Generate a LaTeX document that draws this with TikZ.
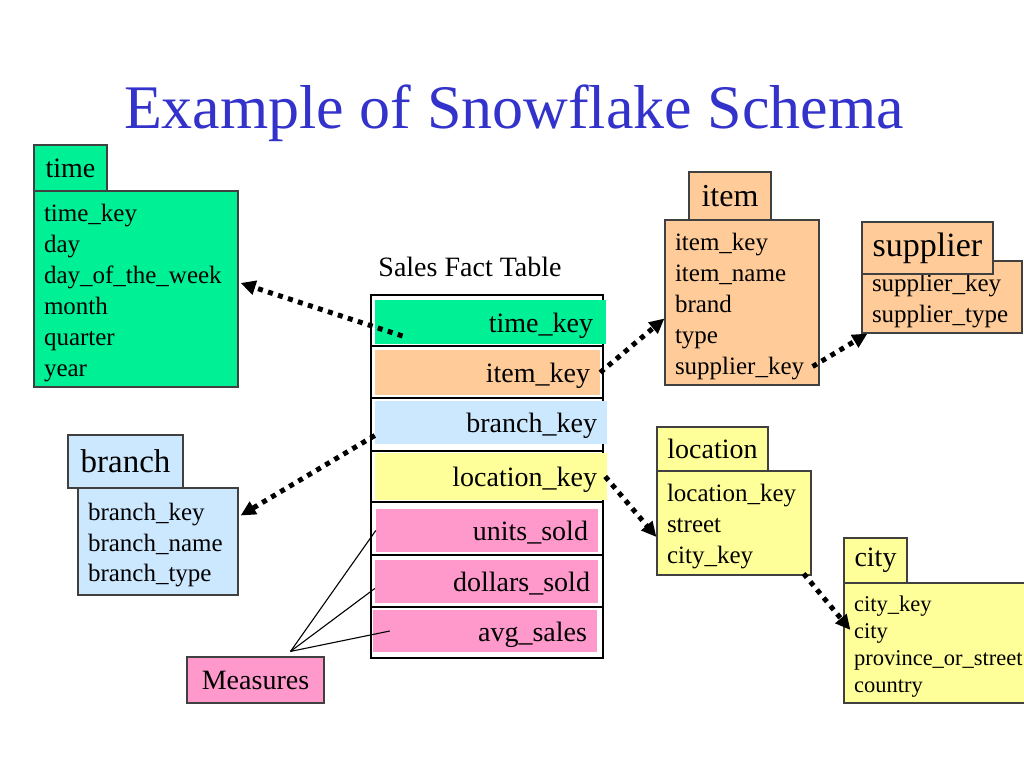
\documentclass[tikz,border=0pt]{standalone}
\usepackage{fontspec}
\setmainfont{Liberation Serif}
\usetikzlibrary{arrows.meta}
\definecolor{tgreen}{RGB}{0,240,150}
\definecolor{tpeach}{RGB}{255,204,153}
\definecolor{tblue}{RGB}{204,232,255}
\definecolor{tyellow}{RGB}{255,255,153}
\definecolor{tpink}{RGB}{255,153,204}
\definecolor{ttitle}{RGB}{51,51,204}
\newcommand{\topgap}{\rule{0pt}{25pt}}
\tikzset{
  hdr/.style={draw=black!75, line width=1.2pt, inner sep=0pt, align=center},
  tbody/.style={draw=black!75, line width=1.2pt, inner xsep=10pt, inner ysep=0pt, align=left,
     font=\fontsize{25}{31}\selectfont},
  frow/.style={inner xsep=10pt, inner ysep=0pt, align=right, font=\fontsize{28}{32}\selectfont,
     text height=27pt, text depth=6.2pt},
  fk/.style={line width=5pt, dash pattern=on 5pt off 5.5pt, -{Triangle[length=15pt,width=14pt]}},
  meas/.style={line width=1.1pt, black},
}
\begin{document}
\begin{tikzpicture}[x=1pt,y=-1pt]
\useasboundingbox (0,0) rectangle (1024,768);
\fill[white] (0,0) rectangle (1024,768);

% title
\node[anchor=base, text=ttitle, font=\fontsize{62}{70}\selectfont, inner sep=0pt] (title) at (514,128) {Example of Snowflake Schema};
\node[anchor=base, font=\fontsize{28}{32}\selectfont, inner sep=0pt] (salesl) at (470,276) {Sales Fact Table};

% time
\node[tbody, fill=tgreen, minimum width=204pt, minimum height=196pt, text width=184pt] (timeb) at (136,289)
  {\topgap time\_key\\day\\day\_of\_the\_week\\month\\quarter\\year};
\node[hdr, fill=tgreen, minimum width=73pt, minimum height=46pt, font=\fontsize{28}{32}\selectfont] (timeh) at (70.5,168) {time};

% item
\node[tbody, fill=tpeach, minimum width=154pt, minimum height=165pt, text width=134pt] (itemb) at (742,302.5)
  {\topgap item\_key\\item\_name\\brand\\type\\supplier\_key};
\node[hdr, fill=tpeach, minimum width=82pt, minimum height=48pt, font=\fontsize{32}{36}\selectfont] (itemh) at (730,196) {item};

% supplier
\node[tbody, fill=tpeach, minimum width=160pt, minimum height=72pt, text width=140pt] (supb) at (942,297)
  {\topgap supplier\_key\\supplier\_type};
\node[hdr, fill=tpeach, minimum width=131pt, minimum height=52pt, font=\fontsize{34}{38}\selectfont, text height=25pt, text depth=8pt] (suph) at (927.5,248) {supplier};

% branch
\node[tbody, fill=tblue, minimum width=160pt, minimum height=107pt, text width=140pt, font=\fontsize{25}{30.5}\selectfont] (branchb) at (158,541.5)
  {\topgap branch\_key\\branch\_name\\branch\_type};
\node[hdr, fill=tblue, minimum width=115pt, minimum height=53pt, font=\fontsize{33}{36}\selectfont] (branchh) at (125.5,461.5) {branch};

% location
\node[tbody, fill=tyellow, minimum width=154pt, minimum height=104pt, text width=134pt] (locb) at (734,523)
  {\topgap location\_key\\street\\city\_key};
\node[hdr, fill=tyellow, minimum width=111pt, minimum height=44pt, font=\fontsize{28}{32}\selectfont] (loch) at (712.5,449) {location};

% city
\node[tbody, fill=tyellow, minimum width=190pt, minimum height=120pt, text width=170pt, font=\fontsize{22.5}{27}\selectfont] (citb) at (939,643)
  {\rule{0pt}{22pt}city\_key\\city\\province\_or\_street\\country};
\node[hdr, fill=tyellow, minimum width=63pt, minimum height=45pt, font=\fontsize{28}{32}\selectfont] (cith) at (875.5,560.5) {city};

% fact table
\node[draw=black, line width=1.8pt, fill=white, minimum width=232pt, minimum height=363pt, inner sep=0pt] (fact) at (487,476.5) {};
\foreach \yy in {346,398,451,502,555,607} \draw[line width=1.8pt] (fact.west |- 0,\yy) -- (fact.east |- 0,\yy);
\node[frow, fill=tgreen, minimum width=231pt, minimum height=44pt, text width=205pt, inner xsep=13pt] (timerow) at (490.5,322) {time\_key};
\node[frow, fill=tpeach, minimum width=225pt, minimum height=45pt, text width=205pt] (itemrow) at (487.5,372.5) {item\_key};
\node[frow, fill=tblue, minimum width=232pt, minimum height=43pt, text width=212pt] (branchrow) at (491,422.5) {branch\_key};
\node[frow, fill=tyellow, minimum width=232pt, minimum height=47pt, text width=212pt] (locrow) at (491,476.5) {location\_key};
\node[frow, fill=tpink, minimum width=222pt, minimum height=43pt, text width=202pt] (unitsrow) at (487,530.5) {units\_sold};
\node[frow, fill=tpink, minimum width=223pt, minimum height=43pt, text width=207pt, inner xsep=8pt] (dollarsrow) at (486.5,581.5) {dollars\_sold};
\node[frow, fill=tpink, minimum width=224pt, minimum height=42pt, text width=204pt] (avgrow) at (485,631) {avg\_sales};

% measures
\node[draw=black!75, line width=1.2pt, fill=tpink, minimum width=137pt, minimum height=46pt, inner sep=0pt, font=\fontsize{28}{32}\selectfont] (measures) at (255.5,680) {Measures};
\draw[meas] ([xshift=35pt,yshift=5pt]measures.north) -- (unitsrow.west);
\draw[meas] ([xshift=35pt,yshift=5pt]measures.north) -- ([yshift=-7pt]dollarsrow.west);
\draw[meas] ([xshift=35pt,yshift=5pt]measures.north) -- ([xshift=17pt]avgrow.west);

% foreign keys
\draw[fk] ([xshift=-88pt,yshift=-14pt]timerow.center) -- ([xshift=2pt,yshift=6pt]timeb.east);
\draw[fk] (itemrow.east) -- ([yshift=-16pt]itemb.west);
\draw[fk] ([xshift=-7pt,yshift=-64pt]itemb.east) -- ([xshift=6pt]supb.south west);
\draw[fk] ([yshift=-13pt]branchrow.west) -- ([xshift=2pt,yshift=26pt]branchb.east);
\draw[fk] ([xshift=-2pt]locrow.east) -- ([yshift=-14pt]locb.west);
\draw[fk] ([xshift=-8pt,yshift=2pt]locb.south east) -- ([xshift=7pt,yshift=13pt]citb.west);
\end{tikzpicture}
\end{document}
